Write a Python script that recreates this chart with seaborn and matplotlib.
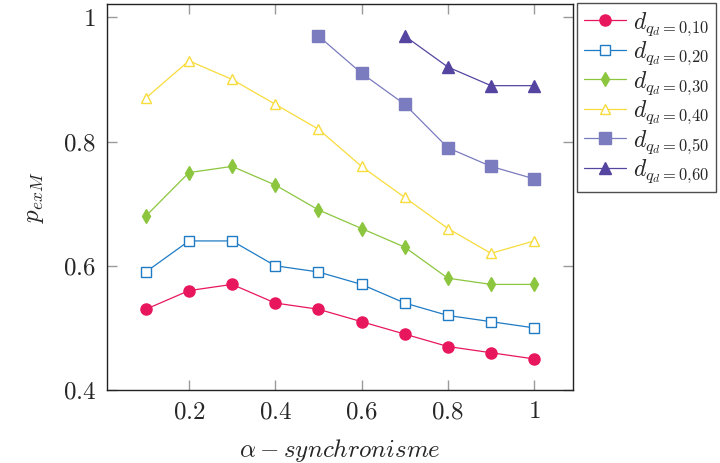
import numpy as np
import pandas as pd
import matplotlib
matplotlib.use("Agg")
import matplotlib.pyplot as plt
import seaborn as sns

# values
alpha = [0.1, 0.2, 0.3, 0.4, 0.5, 0.6, 0.7, 0.8, 0.9, 1.0]
d010 = [0.53, 0.56, 0.57, 0.54, 0.53, 0.51, 0.49, 0.47, 0.46, 0.45]
d020 = [0.59, 0.64, 0.64, 0.60, 0.59, 0.57, 0.54, 0.52, 0.51, 0.50]
d030 = [0.68, 0.75, 0.76, 0.73, 0.69, 0.66, 0.63, 0.58, 0.57, 0.57]
d040 = [0.87, 0.93, 0.90, 0.86, 0.82, 0.76, 0.71, 0.66, 0.62, 0.64]
alpha_050 = [0.5, 0.6, 0.7, 0.8, 0.9, 1.0]
d050 = [0.97, 0.91, 0.86, 0.79, 0.76, 0.74]
alpha_060 = [0.7, 0.8, 0.9, 1.0]
d060 = [0.97, 0.92, 0.89, 0.89]

x_ticks = [0.2, 0.4, 0.6, 0.8, 1.0]
x_tick_labels = ["0.2", "0.4", "0.6", "0.8", "1"]
y_ticks = [0.4, 0.6, 0.8, 1.0]
y_tick_labels = ["0.4", "0.6", "0.8", "1"]

sns.set_theme(style="ticks")
plt.rcParams["mathtext.fontset"] = "cm"
plt.rcParams["font.family"] = ["cmr10", "DejaVu Serif"]
plt.rcParams["axes.formatter.use_mathtext"] = True

# (label, x, y, marker, colour, filled, size)
series = [
    ("0{,}10", alpha, d010, "o", "#E8175D", True, 8),
    ("0{,}20", alpha, d020, "s", "#1F7BC4", False, 6.5),
    ("0{,}30", alpha, d030, "d", "#8CC63F", True, 7.5),
    ("0{,}40", alpha, d040, "^", "#F8DC3C", False, 7),
    ("0{,}50", alpha_050, d050, "s", "#7B7BC0", True, 8.5),
    ("0{,}60", alpha_060, d060, "^", "#5645A0", True, 8),
]

fig = plt.figure(figsize=(7.2, 4.63), dpi=100)
ax = fig.add_axes([0.1486, 0.1577, 0.6472, 0.8337])

for lab, xs, ys, mk, col, filled, ms in series:
    df = pd.DataFrame({"alpha": xs, "p": ys})
    sns.lineplot(
        data=df, x="alpha", y="p", ax=ax,
        color=col, linewidth=0.9,
        marker=mk, markersize=ms,
        markerfacecolor=col if filled else "white",
        markeredgecolor=col, markeredgewidth=1.0,
        label=r"$d_{q_d{=}" + lab + "}$",
    )

ax.set_xlim(0.01, 1.09)
ax.set_ylim(0.4, 1.0215)
ax.set_xticks(x_ticks)
ax.set_xticklabels([f"${t}$" for t in x_tick_labels])
ax.set_yticks(y_ticks)
ax.set_yticklabels([f"${t}$" for t in y_tick_labels])
ax.tick_params(direction="in", length=7, width=1, color="#9a9a9a",
               top=True, right=True, labelsize=18, pad=8)
for sp in ax.spines.values():
    sp.set_color("#222222")
    sp.set_linewidth(1.0)

ax.set_xlabel(r"$\alpha - synchronisme$", fontsize=18, labelpad=10)
ax.set_ylabel(r"$p_{exM}$", fontsize=18, labelpad=12)

leg = ax.legend(loc="upper left", bbox_to_anchor=(1.009, 1.003),
                fontsize=17, frameon=True, fancybox=False,
                handlelength=1.75, handletextpad=0.3, labelspacing=0.08,
                borderpad=0.3, borderaxespad=0.0)
leg.get_frame().set_edgecolor("#222222")
leg.get_frame().set_linewidth(1.0)

fig.savefig("out.png", dpi=100)
